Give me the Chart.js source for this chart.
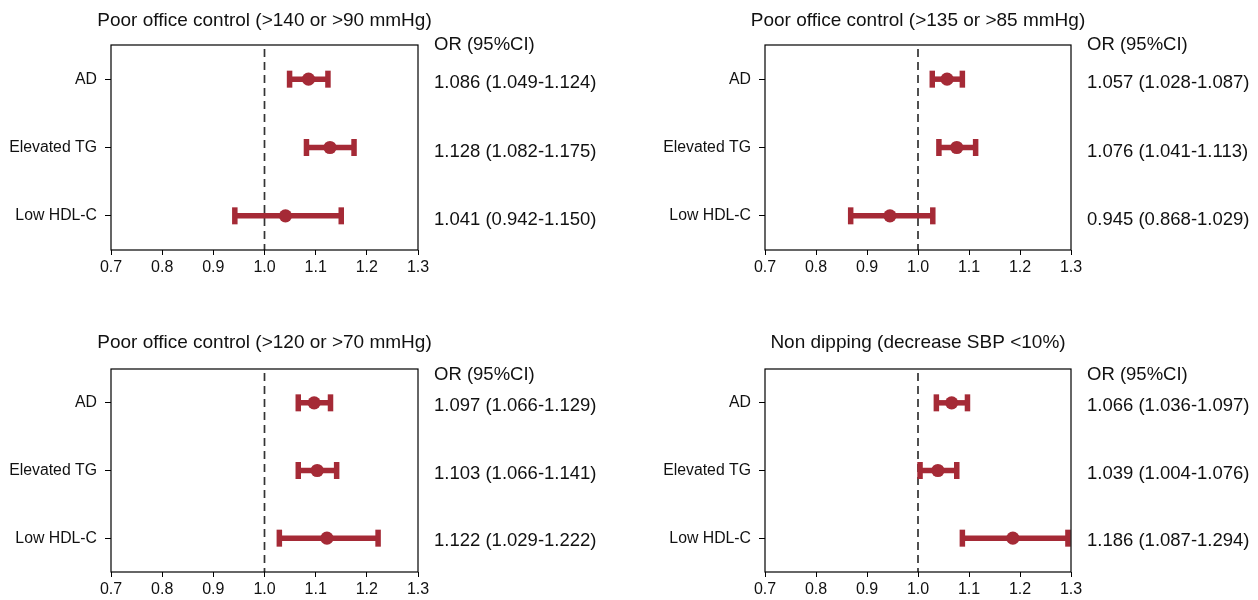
<!DOCTYPE html>
<html>
<head>
<meta charset="utf-8">
<script src="https://cdn.jsdelivr.net/npm/chart.js@4/dist/chart.umd.min.js"></script>
<style>
  html, body { margin: 0; padding: 0; background: #fff; }
  #wrap { position: relative; width: 1258px; height: 600px; }
  .panel { position: absolute; width: 629px; height: 300px; }
  canvas { display: block; }
</style>
</head>
<body>
<div id="wrap">
  <div class="panel" style="left:0;top:0"><canvas id="c0" width="629" height="300"></canvas></div>
  <div class="panel" style="left:629px;top:0"><canvas id="c1" width="629" height="300"></canvas></div>
  <div class="panel" style="left:0;top:300px"><canvas id="c2" width="629" height="300"></canvas></div>
  <div class="panel" style="left:629px;top:300px"><canvas id="c3" width="629" height="300"></canvas></div>
</div>
<script>
// ---- data ----
const categories = ['AD', 'Elevated TG', 'Low HDL-C'];
const panelTitles = [
  'Poor office control (>140 or >90 mmHg)',
  'Poor office control (>135 or >85 mmHg)',
  'Poor office control (>120 or >70 mmHg)',
  'Non dipping (decrease SBP <10%)'
];
const xTickValues = [0.7, 0.8, 0.9, 1.0, 1.1, 1.2, 1.3];
const referenceOR = 1.0;
const orHeader = 'OR (95%CI)';

const orPanel1 = [1.086, 1.128, 1.041];
const loPanel1 = [1.049, 1.082, 0.942];
const hiPanel1 = [1.124, 1.175, 1.150];

const orPanel2 = [1.057, 1.076, 0.945];
const loPanel2 = [1.028, 1.041, 0.868];
const hiPanel2 = [1.087, 1.113, 1.029];

const orPanel3 = [1.097, 1.103, 1.122];
const loPanel3 = [1.066, 1.066, 1.029];
const hiPanel3 = [1.129, 1.141, 1.222];

const orPanel4 = [1.066, 1.039, 1.186];
const loPanel4 = [1.036, 1.004, 1.087];
const hiPanel4 = [1.097, 1.076, 1.294];

// ---- styling / layout ----
const RED = '#A52A36';
const FONT = '"Liberation Sans", Arial, Helvetica, sans-serif';
const layouts = [
  { left: 111, right: 418, top: 45, bottom: 250, titleGap: 19, headerDy: 0, valueDy: 4 },
  { left: 136, right: 442, top: 45, bottom: 250, titleGap: 19, headerDy: 0, valueDy: 4 },
  { left: 111, right: 418, top: 69, bottom: 272, titleGap: 21, headerDy: 6, valueDy: 3 },
  { left: 136, right: 442, top: 69, bottom: 272, titleGap: 21, headerDy: 6, valueDy: 3 }
];
const W = 629, H = 300;

const panels = [
  { or: orPanel1, lo: loPanel1, hi: hiPanel1 },
  { or: orPanel2, lo: loPanel2, hi: hiPanel2 },
  { or: orPanel3, lo: loPanel3, hi: hiPanel3 },
  { or: orPanel4, lo: loPanel4, hi: hiPanel4 }
];

const fmt = v => v.toFixed(3);

panels.forEach((p, idx) => {
  const L = layouts[idx];
  const ciDatasets = categories.map((c, i) => ({
    type: 'line',
    data: [{ x: p.lo[i], y: i + 1 }, { x: p.hi[i], y: i + 1 }],
    showLine: true,
    borderColor: RED,
    borderWidth: 5.5,
    pointStyle: 'line',
    pointRotation: 90,
    pointRadius: 8.5,
    pointBorderWidth: 5.5,
    pointBorderColor: RED,
    pointBackgroundColor: RED,
    order: 2
  }));
  const pointDataset = {
    type: 'scatter',
    data: categories.map((c, i) => ({ x: p.or[i], y: i + 1 })),
    pointRadius: 6.6,
    pointBorderWidth: 0,
    pointBackgroundColor: RED,
    pointBorderColor: RED,
    order: 1
  };

  const panelPlugin = {
    id: 'panelDecor' + idx,
    beforeDatasetsDraw(chart) {
      const { ctx, chartArea: a, scales } = chart;
      const x = scales.x.getPixelForValue(referenceOR);
      ctx.save();
      ctx.strokeStyle = '#333';
      ctx.lineWidth = 1.7;
      ctx.setLineDash([8, 5]);
      ctx.beginPath();
      ctx.moveTo(x, a.top + 4);
      ctx.lineTo(x, a.bottom);
      ctx.stroke();
      ctx.restore();
    },
    afterDraw(chart) {
      const { ctx, chartArea: a, scales } = chart;
      ctx.save();
      ctx.strokeStyle = '#000';
      ctx.lineWidth = 1.2;
      ctx.strokeRect(a.left, a.top, a.right - a.left, a.bottom - a.top);
      ctx.fillStyle = '#111';
      ctx.font = '19px ' + FONT;
      ctx.textAlign = 'center';
      ctx.textBaseline = 'alphabetic';
      ctx.fillText(panelTitles[idx], (a.left + a.right) / 2, a.top - L.titleGap);
      ctx.font = '18.5px ' + FONT;
      ctx.textAlign = 'left';
      ctx.textBaseline = 'middle';
      ctx.fillText(orHeader, a.right + 16, a.top + L.headerDy);
      categories.forEach((c, i) => {
        const y = scales.y.getPixelForValue(i + 1) + L.valueDy;
        ctx.fillText(`${fmt(p.or[i])} (${fmt(p.lo[i])}-${fmt(p.hi[i])})`, a.right + 16, y);
      });
      ctx.restore();
    }
  };

  new Chart(document.getElementById('c' + idx), {
    type: 'scatter',
    data: { datasets: [...ciDatasets, pointDataset] },
    options: {
      responsive: false,
      animation: false,
      events: [],
      layout: { padding: { left: 0, top: L.top, right: W - L.right, bottom: 0 } },
      plugins: { legend: { display: false }, tooltip: { enabled: false }, title: { display: false } },
      scales: {
        x: {
          type: 'linear',
          min: 0.7, max: 1.3,
          afterBuildTicks: s => { s.ticks = xTickValues.map(v => ({ value: v })); },
          afterFit: s => { s.height = H - L.bottom; },
          border: { display: false },
          grid: { display: true, drawOnChartArea: false, drawTicks: true, tickLength: 5, color: '#000', lineWidth: 1 },
          ticks: {
            padding: 3,
            color: '#111',
            font: { family: FONT, size: 16 },
            callback: v => Number(v).toFixed(1),
            maxRotation: 0, autoSkip: false
          }
        },
        y: {
          type: 'linear',
          reverse: true,
          min: 0.5, max: 3.5,
          afterBuildTicks: s => { s.ticks = categories.map((c, i) => ({ value: i + 1 })); },
          afterFit: s => { s.width = L.left; },
          border: { display: false },
          grid: { display: true, drawOnChartArea: false, drawTicks: true, tickLength: 6, color: '#000', lineWidth: 1 },
          ticks: {
            padding: 8,
            color: '#111',
            font: { family: FONT, size: 15.8 },
            callback: v => categories[Math.round(v) - 1] || '',
            autoSkip: false
          }
        }
      }
    },
    plugins: [panelPlugin]
  });
});
</script>
</body>
</html>
